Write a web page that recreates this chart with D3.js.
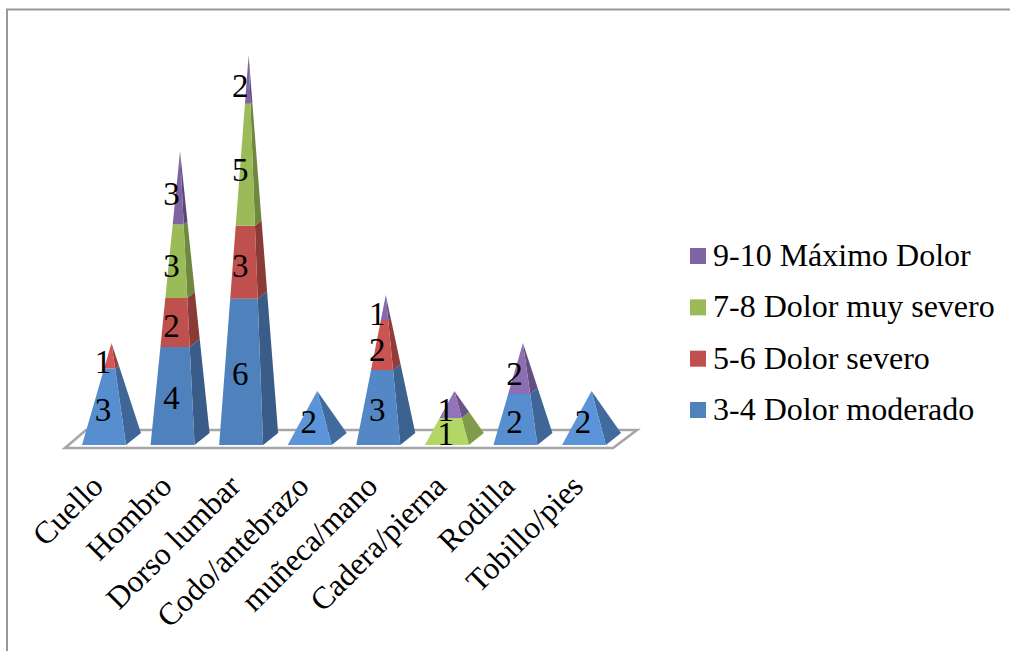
<!DOCTYPE html>
<html>
<head>
<meta charset="utf-8">
<script src="https://cdn.jsdelivr.net/npm/d3@7"></script>
<style>
  html, body { margin: 0; padding: 0; background: #fff; overflow: hidden; }
  text { font-family: "Liberation Serif", serif; fill: #000; }
</style>
</head>
<body>
<div id="chart"></div>
<script>
const categories = ['Cuello', 'Hombro', 'Dorso lumbar', 'Codo/antebrazo', 'muñeca/mano', 'Cadera/pierna', 'Rodilla', 'Tobillo/pies']
const seriesNames = ['3-4 Dolor moderado', '5-6 Dolor severo', '7-8 Dolor muy severo', '9-10 Máximo Dolor']
const moderado = [3, 4, 6, 2, 3, 0, 2, 2]
const severo = [1, 2, 3, 0, 2, 0, 0, 0]
const muySevero = [0, 3, 5, 0, 0, 1, 0, 0]
const maximo = [0, 3, 2, 0, 1, 1, 2, 0]
const seriesColors = ['#4f81bd', '#c0504d', '#9bbb59', '#8064a2']

const rows = categories.map((c, i) => ({
  cat: c,
  [seriesNames[0]]: moderado[i],
  [seriesNames[1]]: severo[i],
  [seriesNames[2]]: muySevero[i],
  [seriesNames[3]]: maximo[i],
}))

const width = 1010
const height = 651
const depth = { x: 15, y: -12 }
const baseFront = 445

const svg = d3.select('#chart').append('svg')
  .attr('width', width)
  .attr('height', height)
  .style('display', 'block')

// chart area border, only left and top are visible in the picture
svg.append('path')
  .attr('d', d3.line()([[7, height + 5], [7, 9.5], [width + 5, 9.5]]))
  .attr('fill', 'none')
  .attr('stroke', '#999')
  .attr('stroke-width', 2)

const x = d3.scaleBand().domain(categories).range([82, 606]).paddingInner(0.3586).paddingOuter(0)
// height above the centre of the pyramid base
const y = d3.scaleLinear().domain([0, 16]).range([baseFront + depth.y / 2, 55])

const stacked = d3.stack().keys(seriesNames)(rows)

// floor
const floorLeft = x.range()[0] - 17
const floorRight = x.range()[1] + 7
svg.append('path')
  .attr('d', d3.line()([
    [floorLeft, baseFront + 3],
    [floorLeft + 21, 430],
    [floorRight + 24, 430],
    [floorRight, baseFront + 3],
  ]) + 'Z')
  .attr('fill', '#fff')
  .attr('stroke', '#a6a6a6')
  .attr('stroke-width', 2.6)

// flatter pyramids catch more light on the front face
const shade = (color, total, f) => {
  const k = Math.max(0, Math.min(1, (8 - total) / 6))
  const c = d3.rgb(color)
  const m = (1 + 0.15 * k) * f
  return d3.rgb(Math.min(255, c.r * m), Math.min(255, c.g * m), Math.min(255, c.b * m)).formatHex()
}

const pyramids = svg.append('g')

categories.forEach((cat, i) => {
  const total = stacked[stacked.length - 1][i][1]
  const left = x(cat)
  const w = x.bandwidth()
  const cx = left + (w + depth.x) / 2
  const cy = y(0)

  // corners of the base measured from the axis of the pyramid
  const fl = [left - cx, baseFront - cy]
  const fr = [left + w - cx, baseFront - cy]
  const br = [left + w + depth.x - cx, baseFront + depth.y - cy]

  const at = (corner, v) => {
    const t = 1 - v / total
    return [cx + corner[0] * t, y(v) + corner[1] * t]
  }

  stacked.forEach((s, si) => {
    const [v0, v1] = s[i]
    if (v1 <= v0) return
    const col = seriesColors[si]
    pyramids.append('path')
      .attr('d', d3.line()([at(fr, v0), at(br, v0), at(br, v1), at(fr, v1)]) + 'Z')
      .attr('fill', shade(col, total, 0.72))
    pyramids.append('path')
      .attr('d', d3.line()([at(fl, v0), at(fr, v0), at(fr, v1), at(fl, v1)]) + 'Z')
      .attr('fill', shade(col, total, 1))
  })
})

// data labels
const labels = svg.append('g')
  .attr('font-size', 33)
  .attr('text-anchor', 'middle')

stacked.forEach((s) => {
  s.forEach((d, i) => {
    const v = d[1] - d[0]
    if (!v) return
    labels.append('text')
      .attr('x', x(categories[i]) + (x.bandwidth() + depth.x) / 2 - 8.5)
      .attr('y', y((d[0] + d[1]) / 2) + 7)
      .attr('dy', '0.33em')
      .text(v)
  })
})

// category axis
const axis = svg.append('g')
  .attr('transform', `translate(0, ${baseFront})`)
  .call(d3.axisBottom(x).tickSize(0))
axis.select('.domain').remove()
axis.selectAll('text')
  .attr('font-size', 31.5)
  .attr('font-family', '"Liberation Serif", serif')
  .attr('text-anchor', 'end')
  .attr('x', 0)
  .attr('y', 0)
  .attr('dy', 0)
  .attr('transform', 'translate(1, 43) rotate(-45)')

// legend, last series on top
const legendNames = seriesNames.slice().reverse()
const legendColors = seriesColors.slice().reverse()
const legendY = d3.scalePoint().domain(legendNames).range([256, 410])
const legend = svg.append('g')
legendNames.forEach((name, i) => {
  legend.append('rect')
    .attr('x', 690)
    .attr('y', legendY(name) - 8)
    .attr('width', 16)
    .attr('height', 16)
    .attr('fill', legendColors[i])
  legend.append('text')
    .attr('x', 713)
    .attr('y', legendY(name) + 10)
    .attr('font-size', 32)
    .text(name)
})
</script>
</body>
</html>
